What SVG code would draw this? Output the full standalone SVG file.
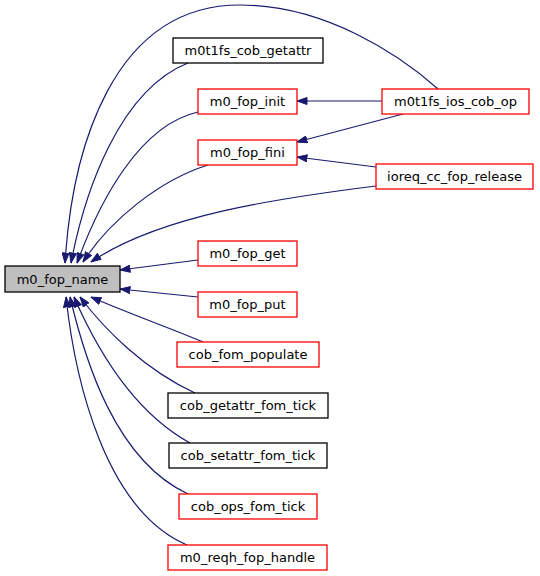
<svg xmlns="http://www.w3.org/2000/svg" width="540" height="576" viewBox="0 0 540 576">
<style>
.n rect{fill:#ffffff;stroke-width:1.3}
.red rect{stroke:#ff0000}
.blk rect{stroke:#000000}
.main rect{fill:#bfbfbf;stroke:#000000}
text{font-family:"DejaVu Sans",sans-serif;font-size:13px;text-anchor:middle;fill:#000000}
.e path{fill:none;stroke:#191970;stroke-width:1.2;marker-end:url(#ah)}
</style>
<defs>
<marker id="ah" viewBox="0 0 11 8" refX="10.5" refY="4" markerWidth="11" markerHeight="8" markerUnits="userSpaceOnUse" orient="auto">
<path d="M0.5,0.5 L10.5,4 L0.5,7.5 z" fill="#191970" stroke="#191970" stroke-width="1"/>
</marker>
</defs>
<rect width="540" height="576" fill="#ffffff"/>
<g class="e" id="edges">
<path d="M438,89 C400,55 325,5 240,5 C112,5 72,150 65,263"/>
<path d="M188,63 C120,90 85,190 71,263"/>
<path d="M198,112 C140,125 100,200 77,263"/>
<path d="M208,165 C160,180 110,220 83,262"/>
<path d="M376,186 C280,198 160,215 91,262"/>
<path d="M382,101 L297,101"/>
<path d="M403,114 L297,142"/>
<path d="M376,167 L297,157"/>
<path d="M198,260 L120,270"/>
<path d="M198,297 L120,289"/>
<path d="M203,342 C170,328 125,312 91,297"/>
<path d="M195,393 C145,370 105,330 80,297"/>
<path d="M190,443 C130,410 95,345 74,297"/>
<path d="M188,494 C115,460 85,360 70,297"/>
<path d="M187,545 C105,510 75,380 66,297"/>
</g>
<g id="m0_fop_name" class="n main"><rect x="5" y="266" width="115" height="26"/><text x="62.5" y="283.5">m0_fop_name</text></g>
<g id="m0t1fs_cob_getattr" class="n blk"><rect x="173" y="38" width="150" height="25"/><text x="248" y="55">m0t1fs_cob_getattr</text></g>
<g id="m0_fop_init" class="n red"><rect x="198" y="89" width="99" height="25"/><text x="247.5" y="106">m0_fop_init</text></g>
<g id="m0_fop_fini" class="n red"><rect x="198" y="140" width="99" height="25"/><text x="247.5" y="157">m0_fop_fini</text></g>
<g id="m0t1fs_ios_cob_op" class="n red"><rect x="382" y="89" width="147" height="25"/><text x="455.5" y="106">m0t1fs_ios_cob_op</text></g>
<g id="ioreq_cc_fop_release" class="n red"><rect x="376" y="164" width="157" height="25"/><text x="454.5" y="181">ioreq_cc_fop_release</text></g>
<g id="m0_fop_get" class="n red"><rect x="198" y="241" width="99" height="25"/><text x="247.5" y="258">m0_fop_get</text></g>
<g id="m0_fop_put" class="n red"><rect x="198" y="292" width="99" height="25"/><text x="247.5" y="309">m0_fop_put</text></g>
<g id="cob_fom_populate" class="n red"><rect x="177" y="342" width="142" height="25"/><text x="248" y="359">cob_fom_populate</text></g>
<g id="cob_getattr_fom_tick" class="n blk"><rect x="168" y="393" width="160" height="25"/><text x="248" y="410">cob_getattr_fom_tick</text></g>
<g id="cob_setattr_fom_tick" class="n blk"><rect x="169" y="443" width="158" height="25"/><text x="248" y="460">cob_setattr_fom_tick</text></g>
<g id="cob_ops_fom_tick" class="n red"><rect x="179" y="494" width="138" height="25"/><text x="248" y="511">cob_ops_fom_tick</text></g>
<g id="m0_reqh_fop_handle" class="n red"><rect x="168" y="545" width="159" height="25"/><text x="247.5" y="562">m0_reqh_fop_handle</text></g>
</svg>
